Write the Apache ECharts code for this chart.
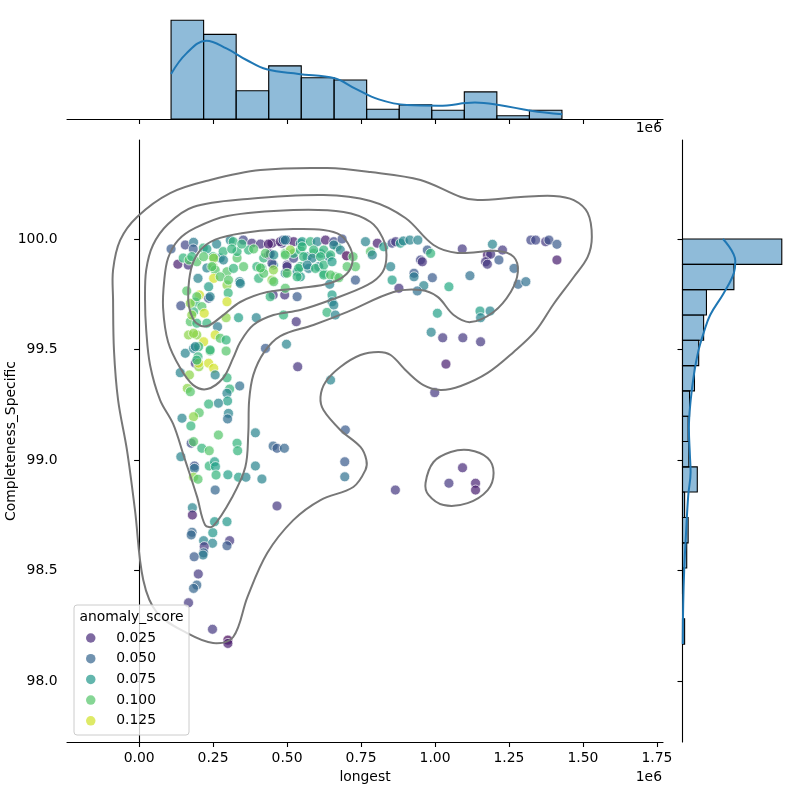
<!DOCTYPE html>
<html>
<head>
<meta charset="utf-8">
<script src="https://cdn.jsdelivr.net/npm/echarts@6/dist/echarts.min.js"></script>
<style>
  html, body { margin: 0; padding: 0; background: #fff; }
  #main { width: 800px; height: 800px; }
</style>
</head>
<body>
<div id="main"></div>
<script>
// scatter points: [longest (x 1e6), Completeness_Specific, anomaly_score]
var points = [
  [0.108, 99.955, 0.045], [0.156, 99.973, 0.036], [0.184, 99.985, 0.06], [0.183, 99.955, 0.045],
  [0.217, 99.959, 0.09], [0.229, 99.955, 0.078], [0.131, 99.886, 0.02], [0.166, 99.882, 0.028],
  [0.149, 99.914, 0.09], [0.169, 99.905, 0.1], [0.195, 99.897, 0.1], [0.178, 99.92, 0.09],
  [0.229, 99.869, 0.065], [0.25, 99.875, 0.112], [0.257, 99.86, 0.1], [0.252, 99.822, 0.125],
  [0.297, 99.852, 0.1], [0.297, 99.792, 0.112], [0.301, 99.756, 0.09], [0.297, 99.716, 0.125],
  [0.308, 99.995, 0.065], [0.274, 99.914, 0.065], [0.25, 99.92, 0.09], [0.284, 99.943, 0.09],
  [0.318, 99.988, 0.09], [0.352, 99.995, 0.036], [0.381, 99.981, 0.028], [0.41, 99.977, 0.028],
  [0.449, 99.981, 0.02], [0.483, 99.981, 0.03], [0.5, 99.995, 0.036], [0.522, 99.988, 0.02],
  [0.331, 99.914, 0.1], [0.353, 99.875, 0.1], [0.37, 99.95, 0.09], [0.331, 99.943, 0.09],
  [0.421, 99.914, 0.09], [0.438, 99.928, 0.028], [0.454, 99.882, 0.065], [0.449, 99.89, 0.036],
  [0.415, 99.867, 0.09], [0.404, 99.822, 0.09], [0.449, 99.814, 0.112], [0.494, 99.935, 0.1],
  [0.5, 99.882, 0.03], [0.522, 99.913, 0.036], [0.534, 99.852, 0.065], [0.494, 99.845, 0.065],
  [0.34, 99.807, 0.065], [0.199, 99.822, 0.065], [0.161, 99.765, 0.1], [0.204, 99.747, 0.125],
  [0.235, 99.784, 0.078], [0.235, 99.732, 0.04], [0.141, 99.698, 0.04], [0.19, 99.714, 0.09],
  [0.212, 99.694, 0.1], [0.22, 99.664, 0.125], [0.184, 99.671, 0.09], [0.173, 99.626, 0.1],
  [0.195, 99.619, 0.09], [0.229, 99.619, 0.09], [0.265, 99.603, 0.06], [0.294, 99.644, 0.112],
  [0.336, 99.644, 0.08], [0.396, 99.644, 0.065], [0.488, 99.656, 0.09], [0.453, 99.747, 0.028],
  [0.492, 99.747, 0.028], [0.534, 99.739, 0.045], [0.531, 99.626, 0.028], [0.167, 99.566, 0.112],
  [0.195, 99.566, 0.112], [0.257, 99.566, 0.125], [0.218, 99.535, 0.125], [0.274, 99.551, 0.1],
  [0.294, 99.543, 0.09], [0.156, 99.483, 0.065], [0.184, 99.505, 0.065], [0.201, 99.513, 0.09],
  [0.24, 99.493, 0.1], [0.294, 99.493, 0.1], [0.427, 99.505, 0.045], [0.498, 99.524, 0.065],
  [0.199, 99.467, 0.09], [0.19, 99.438, 0.03], [0.202, 99.422, 0.112], [0.235, 99.438, 0.125],
  [0.252, 99.415, 0.125], [0.257, 99.385, 0.065], [0.297, 99.372, 0.09], [0.139, 99.395, 0.065],
  [0.17, 99.385, 0.112], [0.163, 99.324, 0.112], [0.173, 99.309, 0.1], [0.34, 99.335, 0.055],
  [0.306, 99.321, 0.09], [0.297, 99.302, 0.065], [0.299, 99.267, 0.08], [0.268, 99.257, 0.065],
  [0.235, 99.253, 0.09], [0.203, 99.214, 0.1], [0.184, 99.196, 0.112], [0.145, 99.189, 0.065],
  [0.302, 99.211, 0.065], [0.299, 99.186, 0.055], [0.536, 99.422, 0.028],
  [0.173, 99.709, 0.112], [0.195, 99.739, 0.1], [0.178, 99.656, 0.112], [0.184, 99.573, 0.112],
  [0.19, 99.513, 0.065], [0.24, 99.498, 0.09], [0.201, 99.438, 0.125], [0.195, 99.452, 0.09],
  [0.262, 99.977, 0.065], [0.313, 99.955, 0.09], [0.347, 99.977, 0.09], [0.387, 99.955, 0.1],
  [0.218, 99.92, 0.1], [0.252, 99.913, 0.112], [0.285, 99.905, 0.065], [0.246, 99.875, 0.1],
  [0.319, 99.867, 0.09], [0.398, 99.875, 0.09], [0.421, 99.845, 0.1], [0.274, 99.829, 0.1],
  [0.302, 99.814, 0.1], [0.342, 99.799, 0.065], [0.24, 99.739, 0.065],
  [0.437, 99.977, 0.02], [0.443, 99.932, 0.03], [0.477, 99.988, 0.02], [0.487, 99.995, 0.045],
  [0.545, 99.981, 0.065], [0.427, 99.935, 0.1], [0.455, 99.928, 0.07], [0.522, 99.935, 0.09],
  [0.545, 99.95, 0.09], [0.568, 99.92, 0.065], [0.59, 99.935, 0.1], [0.613, 99.935, 0.078],
  [0.641, 99.92, 0.065], [0.669, 99.965, 0.09], [0.454, 99.86, 0.112], [0.41, 99.869, 0.1],
  [0.545, 99.875, 0.09], [0.573, 99.867, 0.065], [0.607, 99.875, 0.065], [0.624, 99.845, 0.09],
  [0.663, 99.829, 0.1], [0.545, 99.829, 0.078], [0.455, 99.807, 0.1], [0.443, 99.739, 0.09],
  [0.731, 99.875, 0.1],
  [0.494, 99.995, 0.06], [0.551, 99.988, 0.078], [0.579, 99.988, 0.09], [0.602, 99.988, 0.065],
  [0.63, 99.995, 0.02], [0.658, 99.988, 0.036], [0.686, 100.0, 0.04], [0.511, 99.95, 0.112],
  [0.551, 99.965, 0.09], [0.59, 99.95, 0.09], [0.624, 99.95, 0.09], [0.658, 99.973, 0.065],
  [0.68, 99.95, 0.065], [0.494, 99.928, 0.1], [0.556, 99.92, 0.09], [0.585, 99.913, 0.065],
  [0.613, 99.92, 0.09], [0.647, 99.928, 0.09], [0.701, 99.924, 0.01], [0.723, 99.92, 0.1],
  [0.5, 99.875, 0.028], [0.539, 99.867, 0.09], [0.568, 99.882, 0.065], [0.596, 99.867, 0.09],
  [0.624, 99.882, 0.09], [0.652, 99.897, 0.078], [0.703, 99.875, 0.1], [0.5, 99.845, 0.1],
  [0.534, 99.829, 0.09], [0.624, 99.837, 0.09], [0.647, 99.837, 0.1], [0.675, 99.825, 0.1],
  [0.644, 99.795, 0.065], [0.731, 99.814, 0.045], [0.494, 99.777, 0.1], [0.652, 99.747, 0.08],
  [0.652, 99.716, 0.065], [0.658, 99.701, 0.065], [0.635, 99.668, 0.09], [0.663, 99.656, 0.065],
  [0.765, 99.988, 0.065], [0.805, 99.981, 0.02], [0.827, 99.965, 0.078], [0.855, 99.981, 0.036],
  [0.867, 99.988, 0.03], [0.883, 99.981, 0.078], [0.893, 99.991, 0.065], [0.915, 99.995, 0.065],
  [0.942, 99.995, 0.065], [0.782, 99.943, 0.1], [0.788, 99.928, 0.065], [0.85, 99.875, 0.065],
  [0.855, 99.814, 0.08], [0.878, 99.777, 0.028], [0.929, 99.845, 0.045], [0.929, 99.829, 0.06],
  [0.951, 99.905, 0.036], [0.957, 99.897, 0.028], [0.974, 99.95, 0.045], [0.985, 99.935, 0.09],
  [0.991, 99.825, 0.045], [0.962, 99.789, 0.065], [0.94, 99.765, 0.055], [1.047, 99.784, 0.085],
  [1.092, 99.955, 0.03], [1.118, 99.834, 0.055], [1.008, 99.664, 0.08], [0.987, 99.578, 0.065],
  [1.026, 99.553, 0.03], [1.094, 99.553, 0.03], [1.154, 99.535, 0.03], [1.152, 99.674, 0.08],
  [1.154, 99.644, 0.065], [1.186, 99.674, 0.065], [1.194, 99.976, 0.065], [1.177, 99.928, 0.02],
  [1.188, 99.931, 0.03], [1.171, 99.897, 0.028], [1.177, 99.886, 0.03], [1.216, 99.905, 0.045],
  [1.228, 99.95, 0.03], [1.267, 99.867, 0.05], [1.281, 99.795, 0.05], [1.307, 99.807, 0.055],
  [1.324, 99.995, 0.036], [1.34, 99.995, 0.036], [1.374, 99.988, 0.03], [1.385, 99.995, 0.04],
  [1.412, 99.976, 0.045], [1.412, 99.905, 0.02],
  [1.037, 99.434, 0.02], [0.647, 99.362, 0.065], [0.999, 99.305, 0.03], [0.697, 99.136, 0.045],
  [0.695, 98.992, 0.045], [0.695, 98.924, 0.055], [0.866, 98.864, 0.03], [1.093, 98.965, 0.025],
  [1.047, 98.895, 0.03], [1.137, 98.895, 0.022], [1.137, 98.864, 0.02],
  [0.175, 99.154, 0.09], [0.268, 99.113, 0.1], [0.393, 99.123, 0.065], [0.176, 99.076, 0.04],
  [0.184, 99.083, 0.1], [0.212, 99.053, 0.09], [0.237, 99.042, 0.1], [0.331, 99.076, 0.09],
  [0.333, 99.042, 0.09], [0.453, 99.063, 0.05], [0.466, 99.053, 0.045], [0.491, 99.053, 0.05],
  [0.141, 99.015, 0.065], [0.187, 98.973, 0.04], [0.187, 98.962, 0.055], [0.237, 98.973, 0.09],
  [0.255, 98.992, 0.08], [0.258, 98.97, 0.08], [0.26, 98.932, 0.09], [0.3, 98.933, 0.08],
  [0.336, 98.922, 0.08], [0.361, 98.922, 0.065], [0.393, 98.973, 0.065], [0.415, 98.914, 0.065],
  [0.184, 98.922, 0.112], [0.199, 98.913, 0.1], [0.257, 98.864, 0.05], [0.466, 98.792, 0.03],
  [0.18, 98.784, 0.065], [0.18, 98.751, 0.02], [0.255, 98.721, 0.075], [0.297, 98.721, 0.075],
  [0.179, 98.673, 0.05], [0.176, 98.661, 0.05], [0.218, 98.635, 0.065], [0.249, 98.671, 0.075],
  [0.248, 98.623, 0.065], [0.306, 98.635, 0.03], [0.297, 98.612, 0.045], [0.22, 98.608, 0.03],
  [0.218, 98.58, 0.05], [0.216, 98.57, 0.06], [0.186, 98.562, 0.045], [0.2, 98.484, 0.03],
  [0.195, 98.434, 0.05], [0.184, 98.419, 0.05], [0.167, 98.354, 0.03], [0.248, 98.234, 0.03],
  [0.3, 98.185, 0.012], [0.3, 98.17, 0.02]
];

// marginal histogram of longest (bin edges in 1e6, counts)
var longestEdges = [0.108, 0.218, 0.328, 0.438, 0.548, 0.659, 0.769, 0.879, 0.989, 1.099, 1.209, 1.319, 1.429];
var longestCounts = [91, 78, 26, 49, 38, 36, 9, 13, 8, 25, 3, 8];
var longestKde = [[0.108, 41.5], [0.160, 60.5], [0.227, 72.2], [0.295, 65.1], [0.363, 54.4], [0.431, 45.8],
  [0.539, 41.5], [0.661, 37.5], [0.729, 28.3], [0.810, 18.1], [0.905, 12.9], [1.013, 12.3],
  [1.135, 15.1], [1.216, 12.9], [1.324, 7.7], [1.430, 4.3]];

// marginal histogram of Completeness_Specific
var complEdges = [98.167, 98.282, 98.396, 98.511, 98.625, 98.740, 98.855, 98.969, 99.084,
  99.198, 99.313, 99.427, 99.542, 99.656, 99.771, 99.885, 100.0];
var complCounts = [3, 0, 1, 6, 8, 3, 21, 9, 8, 10, 17, 23, 30, 34, 73, 141];
var complKde = [[57.5, 100.0], [75, 99.90], [73, 99.847], [58.7, 99.756], [39.3, 99.656], [29.7, 99.572],
  [22.6, 99.495], [16.3, 99.389], [11.5, 99.267], [9.1, 99.145], [10.5, 99.023], [11.5, 98.946],
  [8.1, 98.838], [4.8, 98.656], [2.4, 98.502], [1, 98.348], [0.4, 98.167]];

// KDE contour levels (closed loops)
var contourOuter = [[-0.088, 99.724], [-0.085, 99.498], [-0.071, 99.271], [-0.041, 99.045], [-0.014, 98.774],
  [0.014, 98.457], [0.061, 98.308], [0.162, 98.217], [0.250, 98.172], [0.318, 98.199], [0.366, 98.380],
  [0.433, 98.579], [0.521, 98.728], [0.613, 98.819], [0.724, 98.878], [0.765, 98.955], [0.768, 99.0],
  [0.748, 99.059], [0.680, 99.136], [0.623, 99.226], [0.613, 99.285], [0.630, 99.353], [0.680, 99.421],
  [0.748, 99.475], [0.809, 99.489], [0.850, 99.475], [0.907, 99.398], [0.961, 99.339], [1.019, 99.317],
  [1.087, 99.335], [1.178, 99.394], [1.266, 99.489], [1.340, 99.584], [1.401, 99.706], [1.469, 99.828],
  [1.516, 99.919], [1.530, 100.009], [1.516, 100.118], [1.469, 100.176], [1.401, 100.195], [1.290, 100.190],
  [1.144, 100.176], [1.087, 100.190], [0.951, 100.267], [0.782, 100.303], [0.636, 100.321], [0.410, 100.312],
  [0.240, 100.267], [0.105, 100.208], [-0.007, 100.100], [-0.064, 99.995], [-0.088, 99.860]];
var contourIsland = [[0.968, 98.896], [0.995, 98.991], [1.053, 99.036], [1.114, 99.045], [1.178, 99.009],
  [1.198, 98.941], [1.178, 98.864], [1.110, 98.805], [1.029, 98.796], [0.978, 98.842]];
var contourSecond = [[0.020, 99.724], [0.024, 99.860], [0.047, 99.973], [0.098, 100.068], [0.183, 100.145],
  [0.366, 100.181], [0.623, 100.199], [0.782, 100.172], [0.900, 100.095], [0.995, 99.973], [1.076, 99.937],
  [1.212, 99.946], [1.266, 99.919], [1.280, 99.851], [1.256, 99.760], [1.198, 99.670], [1.120, 99.624],
  [1.063, 99.656], [1.009, 99.738], [0.951, 99.769], [0.860, 99.760], [0.704, 99.670], [0.589, 99.611],
  [0.477, 99.561], [0.423, 99.489], [0.386, 99.385], [0.372, 99.271], [0.369, 99.122], [0.359, 98.968],
  [0.315, 98.833], [0.250, 98.701], [0.223, 98.706], [0.196, 98.833], [0.152, 99.014], [0.115, 99.163],
  [0.071, 99.271], [0.037, 99.430], [0.024, 99.588]];
var contourThird = [[0.081, 99.688], [0.085, 99.814], [0.098, 99.914], [0.132, 99.995], [0.190, 100.050],
  [0.298, 100.104], [0.521, 100.131], [0.691, 100.122], [0.782, 100.077], [0.823, 100.005], [0.836, 99.928],
  [0.823, 99.851], [0.772, 99.792], [0.647, 99.724], [0.545, 99.679], [0.454, 99.656], [0.386, 99.611],
  [0.342, 99.534], [0.318, 99.462], [0.284, 99.371], [0.230, 99.321], [0.183, 99.339], [0.139, 99.416],
  [0.098, 99.534]];
var contourInner = [[0.166, 99.724], [0.169, 99.814], [0.183, 99.896], [0.217, 99.964], [0.274, 100.005],
  [0.376, 100.032], [0.521, 100.045], [0.623, 100.041], [0.680, 100.018], [0.714, 99.959], [0.721, 99.896],
  [0.701, 99.842], [0.647, 99.801], [0.545, 99.778], [0.433, 99.760], [0.342, 99.715], [0.281, 99.652],
  [0.230, 99.606], [0.193, 99.620], [0.173, 99.670]];
var contours = [contourOuter, contourIsland, contourSecond, contourThird, contourInner];

var legendLabels = ['0.025', '0.050', '0.075', '0.100', '0.125'];
var legendColors = ['#472a79', '#33648d', '#21978a', '#53c468', '#d0e126'];

var xTicks = [0, 0.25, 0.5, 0.75, 1.0, 1.25, 1.5, 1.75];
var yTicks = [98.0, 98.5, 99.0, 99.5, 100.0];

var chart = echarts.init(document.getElementById('main'));
var viridis = ['#440154', '#482475', '#414487', '#355f8d', '#2a788e', '#21918c',
  '#22a884', '#44bf70', '#7ad151', '#bddf26', '#fde725'];
var FONT = 'DejaVu Sans';
var FS = 13.9;
var X_MIN = -0.2437, X_MAX = 1.7705, Y_MIN = 97.724, Y_MAX = 100.448;
var lineStyleBlack = { color: '#000', width: 1.1 };

var topBins = longestCounts.map(function (c, i) { return [longestEdges[i], longestEdges[i + 1], c]; });
var rightBins = [];
complCounts.forEach(function (c, i) {
  if (c > 0) rightBins.push([complEdges[i], complEdges[i + 1], c]);
});

var barStyle = { fill: 'rgba(31,119,180,0.5)', stroke: '#000', lineWidth: 1.1 };

var series = [
  {
    type: 'scatter',
    xAxisIndex: 0, yAxisIndex: 0,
    data: points,
    symbolSize: 10,
    itemStyle: { opacity: 0.7, borderColor: '#fff', borderWidth: 1 },
    z: 2
  },
  {
    type: 'custom',
    xAxisIndex: 0, yAxisIndex: 0,
    data: contours.map(function (c, i) { return [c[0][0], c[0][1], i]; }),
    encode: { x: 0, y: 1 },
    renderItem: function (params, api) {
      var loop = contours[api.value(2)].map(function (p) { return api.coord(p); });
      return {
        type: 'polygon',
        shape: { points: loop, smooth: 0.35 },
        style: { fill: null, stroke: '#777777', lineWidth: 2 }
      };
    },
    z: 3
  },
  {
    type: 'custom',
    xAxisIndex: 1, yAxisIndex: 1,
    data: topBins,
    encode: { x: [0, 1], y: 2 },
    renderItem: function (params, api) {
      var p0 = api.coord([api.value(0), 0]);
      var p1 = api.coord([api.value(1), api.value(2)]);
      return { type: 'rect', shape: { x: p0[0], y: p1[1], width: p1[0] - p0[0], height: p0[1] - p1[1] }, style: barStyle };
    }
  },
  {
    type: 'line',
    xAxisIndex: 1, yAxisIndex: 1,
    data: longestKde,
    smooth: 0.4,
    showSymbol: false,
    lineStyle: { color: '#1f77b4', width: 2 },
    z: 3
  },
  {
    type: 'custom',
    xAxisIndex: 2, yAxisIndex: 2,
    data: rightBins,
    encode: { x: 2, y: [0, 1] },
    renderItem: function (params, api) {
      var p0 = api.coord([0, api.value(0)]);
      var p1 = api.coord([api.value(2), api.value(1)]);
      return { type: 'rect', shape: { x: p0[0], y: p1[1], width: p1[0] - p0[0], height: p0[1] - p1[1] }, style: barStyle };
    }
  },
  {
    type: 'line',
    xAxisIndex: 2, yAxisIndex: 2,
    data: complKde,
    smooth: 0.4,
    showSymbol: false,
    lineStyle: { color: '#1f77b4', width: 2 },
    z: 3
  }
];

legendLabels.forEach(function (name, i) {
  series.push({
    type: 'scatter', name: name, xAxisIndex: 0, yAxisIndex: 0, data: [],
    itemStyle: { color: legendColors[i], opacity: 0.7 }
  });
});

var textBase = { fontFamily: FONT, fontSize: FS, color: '#000' };

chart.setOption({
  animation: false,
  backgroundColor: '#fff',
  textStyle: { fontFamily: FONT },
  grid: [
    { left: 67, top: 140, width: 596, height: 602, outerBoundsMode: 'none' },
    { left: 67, top: 15, width: 596, height: 104, outerBoundsMode: 'none' },
    { left: 682.5, top: 140, width: 104.5, height: 602, outerBoundsMode: 'none' }
  ],
  xAxis: [
    {
      gridIndex: 0, type: 'value', min: X_MIN, max: X_MAX,
      name: 'longest', nameLocation: 'middle', nameGap: 28, nameMoveOverlap: false, nameTextStyle: textBase,
      axisLine: { show: true, lineStyle: lineStyleBlack },
      axisTick: { show: true, length: 5, lineStyle: lineStyleBlack, customValues: xTicks },
      axisLabel: Object.assign({ margin: 9.5, customValues: xTicks, formatter: function (v) { return v.toFixed(2); } }, textBase),
      splitLine: { show: false }
    },
    {
      gridIndex: 1, type: 'value', min: X_MIN, max: X_MAX,
      axisLine: { show: true, lineStyle: lineStyleBlack },
      axisTick: { show: true, length: 5, lineStyle: lineStyleBlack, customValues: xTicks },
      axisLabel: { show: false },
      splitLine: { show: false }
    },
    {
      gridIndex: 2, type: 'value', min: 0, max: 148.4, show: false
    }
  ],
  yAxis: [
    {
      gridIndex: 0, type: 'value', min: Y_MIN, max: Y_MAX,
      name: 'Completeness_Specific', nameLocation: 'middle', nameGap: 49, nameMoveOverlap: false, nameTextStyle: textBase,
      axisLine: { show: true, lineStyle: lineStyleBlack },
      axisTick: { show: true, length: 5, lineStyle: lineStyleBlack, customValues: yTicks },
      axisLabel: Object.assign({ margin: 9.5, customValues: yTicks, formatter: function (v) { return v.toFixed(1); } }, textBase),
      splitLine: { show: false }
    },
    {
      gridIndex: 1, type: 'value', min: 0, max: 95.9, show: false
    },
    {
      gridIndex: 2, type: 'value', min: Y_MIN, max: Y_MAX,
      axisLine: { show: true, lineStyle: lineStyleBlack },
      axisTick: { show: true, length: 5, lineStyle: lineStyleBlack, customValues: yTicks },
      axisLabel: { show: false },
      splitLine: { show: false }
    }
  ],
  visualMap: {
    type: 'continuous', show: false, seriesIndex: 0, dimension: 2,
    min: 0.0102, max: 0.1337,
    inRange: { color: viridis }
  },
  legend: {
    data: legendLabels,
    orient: 'vertical',
    left: 86, top: 631,
    padding: 0,
    itemWidth: 41, itemHeight: 9.5,
    itemGap: 6.7,
    icon: 'circle',
    selectedMode: false,
    textStyle: { fontFamily: FONT, fontSize: FS, color: '#000', lineHeight: 14 },
    z: 60
  },
  graphic: [
    {
      type: 'rect', z: 50,
      shape: { x: 74, y: 605, width: 115, height: 130, r: 3 },
      style: { fill: 'rgba(255,255,255,0.8)', stroke: '#cccccc', lineWidth: 1 }
    },
    {
      type: 'text', z: 60, x: 131.5, y: 617.5,
      style: { text: 'anomaly_score', font: FS + 'px "DejaVu Sans"', fill: '#000', align: 'center', verticalAlign: 'middle' }
    },
    {
      type: 'text', z: 60, x: 662, y: 777,
      style: { text: '1e6', font: FS + 'px "DejaVu Sans"', fill: '#000', align: 'right', verticalAlign: 'middle' }
    },
    {
      type: 'text', z: 60, x: 662, y: 128.5,
      style: { text: '1e6', font: FS + 'px "DejaVu Sans"', fill: '#000', align: 'right', verticalAlign: 'middle' }
    }
  ],
  series: series
});
</script>
</body>
</html>
